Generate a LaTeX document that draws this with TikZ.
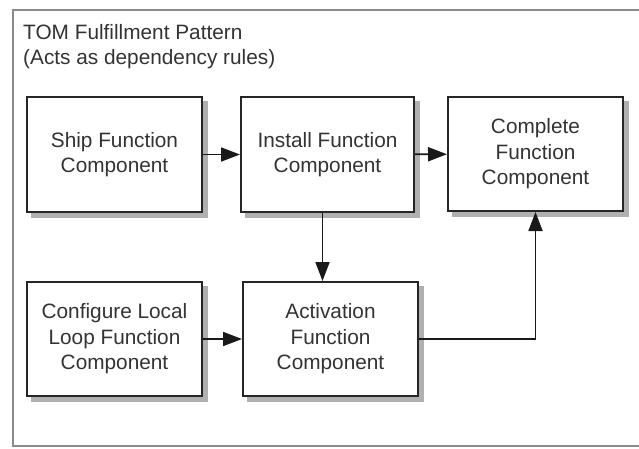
\documentclass[tikz,border=0pt]{standalone}
\usepackage{fontspec}
\setmainfont{Liberation Sans}
\usetikzlibrary{arrows.meta,backgrounds}
\definecolor{txt}{HTML}{333333}
\definecolor{frm}{HTML}{8A8A8A}
\definecolor{shd}{HTML}{B0B0B0}
\tikzset{
  compbox/.style={draw=black!85, line width=2pt, fill=white, align=center,
    text=txt, font=\fontsize{20.8}{25.5}\selectfont, inner sep=0pt},
  arr/.style={draw=black!90, line width=1.8pt, -{Triangle[length=19pt,width=14pt]}},
  shadowfill/.style={fill=shd},
}
\begin{document}
\begin{tikzpicture}[x=1pt,y=-1pt]
\useasboundingbox (0,0) rectangle (639,448);
\node[anchor=base west, align=left, text=txt, font=\fontsize{20.8}{25}\selectfont, inner sep=0pt] (title) at (23,64)
  {TOM Fulfillment Pattern\\(Acts as dependency rules)};
\node[compbox, minimum width=175pt, minimum height=115pt] (ship) at (114.5,154.5) {Ship Function\\Component};
\node[compbox, minimum width=173pt, minimum height=115pt] (install) at (327.5,154.5) {Install Function\\Component};
\node[compbox, minimum width=175pt, minimum height=114pt] (complete) at (535.5,154) {Complete\\Function\\Component};
\node[compbox, minimum width=175pt, minimum height=114pt] (configure) at (114.5,339) {Configure Local\\Loop Function\\Component};
\node[compbox, minimum width=175pt, minimum height=114pt] (activation) at (330.5,339) {Activation\\Function\\Component};
\draw[arr] (ship) -- (install);
\draw[arr] (install) -- (complete);
\draw[arr] (configure) -- (activation);
\draw[arr] ([xshift=-5pt]install.south) -- ([xshift=-5pt]install.south |- activation.north);
\draw[arr] (activation.east) -| (complete.south);
\begin{scope}[on background layer]
\fill[white] (0,0) rectangle (639,448);
\begin{scope}
\clip (0,0) rectangle (639,448);
\draw[frm, line width=2.5pt] (650,10) -- (13,10) -- (13,446) -- (650,446);
\end{scope}
\foreach \n in {ship,install,complete,configure,activation}
  \fill[shadowfill] ([xshift=5pt,yshift=-5pt]\n.north west) rectangle ([xshift=5pt,yshift=-5pt]\n.south east);
\end{scope}
\end{tikzpicture}
\end{document}
